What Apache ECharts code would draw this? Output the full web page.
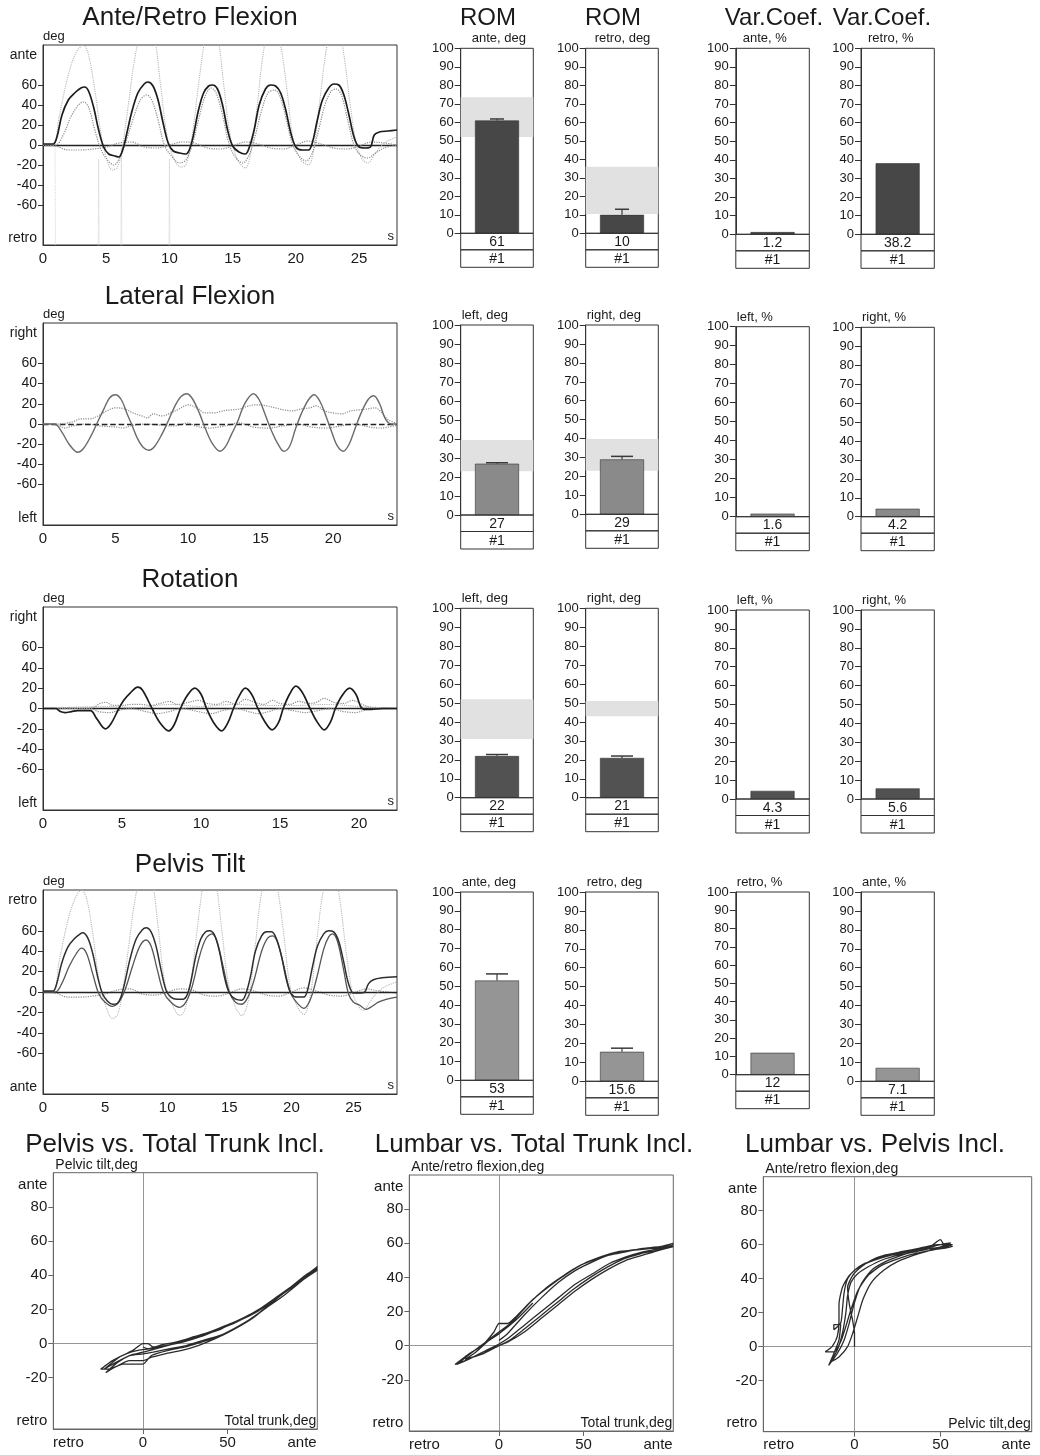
<!DOCTYPE html>
<html><head><meta charset="utf-8">
<script src="https://cdn.jsdelivr.net/npm/echarts@6/dist/echarts.min.js"></script>
<style>html,body{margin:0;padding:0;background:#fff}#c{width:1040px;height:1455px}</style>
</head><body><div id="c"></div>
<script>
// ================= DATA =================
// Titles / labels
const rowTitles = ['Ante/Retro Flexion', 'Lateral Flexion', 'Rotation', 'Pelvis Tilt'];
const rowYTop = ['ante', 'right', 'right', 'retro'];
const rowYBottom = ['retro', 'left', 'left', 'ante'];
const lineXTicks = [0, 5, 10, 15, 20, 25];
const lineYTicks = [-60, -40, -20, 0, 20, 40, 60];
const barTitles = ['ROM', 'ROM', 'Var.Coef.', 'Var.Coef.'];
const barYTicks = [0, 10, 20, 30, 40, 50, 60, 70, 80, 90, 100];
const xyTitles = ['Pelvis vs. Total Trunk Incl.', 'Lumbar vs. Total Trunk Incl.', 'Lumbar vs. Pelvis Incl.'];
const xyYNames = ['Pelvic tilt,deg', 'Ante/retro flexion,deg', 'Ante/retro flexion,deg'];
const xyXNames = ['Total trunk,deg', 'Total trunk,deg', 'Pelvic tilt,deg'];
const xyXTicks = [0, 50];
const xyYTicks = [-20, 0, 20, 40, 60, 80];

// Bar values (ROM ante/left, ROM retro/right, VarCoef, VarCoef)
const flexSub = ['ante, deg', 'retro, deg', 'ante, %', 'retro, %'];
const latSub = ['left, deg', 'right, deg', 'left, %', 'right, %'];
const rotSub = ['left, deg', 'right, deg', 'left, %', 'right, %'];
const pelSub = ['ante, deg', 'retro, deg', 'retro, %', 'ante, %'];
const flexBars = [61, 10, 1.2, 38.2];
const latBars = [27, 29, 1.6, 4.2];
const rotBars = [22, 21, 4.3, 5.6];
const pelBars = [53, 15.6, 12, 7.1];
const flexErr = [61.8, 13, null, null];
const latErr = [27.5, 30.6, null, null];
const rotErr = [22.8, 22, null, null];
const pelErr = [56.5, 17.5, null, null];
const flexNorm = [[52, 73.5], [10.5, 36], null, null];
const latNorm = [[23, 39.5], [23, 39.8], null, null];
const rotNorm = [[31, 52], [43, 51], null, null];
const pelNorm = [null, null, null, null];
const groupLabel = '#1';

// Time series: [seconds, degrees]
const flexMain = [[0,1],[0.8,1],[1.1,8],[1.5,30],[2.0,45],[2.5,52],[3.0,57],[3.3,58],[3.6,54],[4.0,38],[4.4,15],[4.8,-2],[5.2,-9],[5.7,-11],[6.0,-12],[6.3,-5],[6.6,10],[7.0,32],[7.5,52],[8.0,61],[8.3,63],[8.7,59],[9.1,45],[9.5,22],[9.9,2],[10.3,-6],[10.8,-8],[11.3,-9],[11.6,-4],[11.9,10],[12.3,35],[12.7,52],[13.1,59],[13.4,60],[13.8,56],[14.2,40],[14.6,15],[15.0,-1],[15.5,-7],[16.0,-9],[16.3,-3],[16.7,15],[17.1,40],[17.6,56],[18.0,60],[18.4,59],[18.8,52],[19.2,35],[19.6,12],[20.0,-2],[20.5,-5],[21.0,-5],[21.3,2],[21.7,25],[22.1,45],[22.6,57],[23.0,61],[23.4,60],[23.8,50],[24.2,30],[24.6,8],[25.0,-2],[25.5,-3],[25.9,-2],[26.2,10],[26.6,13],[27.3,14],[28,15]];
const flexTrunk = [[0,0],[0.8,0],[1.3,30],[2.0,70],[2.6,92],[3.2,100],[3.6,90],[4.1,55],[4.6,10],[5.0,-12],[5.5,-25],[5.9,-22],[6.3,0],[6.8,45],[7.3,90],[7.8,115],[8.3,125],[8.8,110],[9.3,60],[9.8,10],[10.3,-12],[10.9,-22],[11.3,-20],[11.8,10],[12.3,60],[12.8,105],[13.3,125],[13.8,110],[14.3,60],[14.8,10],[15.4,-15],[16.0,-23],[16.4,-10],[16.9,35],[17.4,90],[17.9,120],[18.3,125],[18.8,100],[19.3,55],[19.8,5],[20.4,-15],[21.0,-20],[21.4,-5],[21.9,45],[22.4,95],[22.9,120],[23.3,120],[23.8,90],[24.3,40],[24.8,0],[25.3,-15],[25.7,-18],[26.2,-10],[26.8,0],[27.4,5],[28,8]];
const flexPelvis = [[0,0],[1.0,0],[1.6,10],[2.2,28],[2.8,40],[3.2,43],[3.6,38],[4.1,15],[4.6,-5],[5.1,-15],[5.6,-20],[6.1,-12],[6.6,5],[7.1,25],[7.7,45],[8.2,50],[8.6,45],[9.1,25],[9.6,0],[10.1,-10],[10.8,-18],[11.3,-15],[11.8,0],[12.3,25],[12.8,48],[13.3,57],[13.7,52],[14.2,30],[14.7,2],[15.2,-12],[15.8,-18],[16.3,-10],[16.8,10],[17.3,35],[17.8,52],[18.3,55],[18.7,50],[19.2,28],[19.7,2],[20.2,-10],[20.8,-16],[21.3,-8],[21.8,15],[22.3,40],[22.8,54],[23.2,56],[23.6,50],[24.1,25],[24.6,0],[25.1,-10],[25.7,-13],[26.3,-8],[27,-3],[28,0]];
const flexNear = [[0,0],[1,-1],[2,-5],[3,-5],[4,-4],[5,-2],[6,2],[7,3],[8,-2],[9,-3],[10,0],[11,3],[12,2],[13,-3],[14,-4],[15,-1],[16,3],[17,1],[18,-3],[19,-4],[20,0],[21,4],[22,1],[23,-3],[24,-4],[25,-1],[26,3],[27,2],[28,0]];
const flexSpike = [[0.95,-2],[1.0,-130],[4.35,-130],[4.4,-14],[4.45,-130],[6.15,-130],[6.2,-3],[6.25,-130],[9.95,-130],[10.0,-14],[10.05,-130]];

const latMain = [[0,0],[0.8,0],[1.3,-8],[1.8,-20],[2.4,-28],[2.8,-24],[3.3,-12],[3.7,0],[4.2,15],[4.6,26],[5.0,29],[5.4,24],[5.8,10],[6.1,0],[6.5,-14],[6.9,-23],[7.3,-26],[7.7,-22],[8.2,-10],[8.6,2],[9.1,18],[9.5,27],[9.9,30],[10.3,25],[10.8,10],[11.2,-5],[11.7,-20],[12.2,-27],[12.6,-22],[13.0,-10],[13.4,2],[13.9,20],[14.5,30],[14.9,24],[15.3,10],[15.7,-5],[16.2,-20],[16.6,-27],[17.0,-22],[17.4,-5],[17.8,10],[18.3,24],[18.7,29],[19.1,22],[19.5,8],[19.9,-8],[20.3,-22],[20.7,-27],[21.1,-20],[21.5,-5],[21.9,10],[22.4,24],[22.8,28],[23.2,20],[23.6,5],[24.0,0],[24.4,0]];
const latSecond = [[0,0],[1,0],[2,2],[2.6,5],[3.2,5],[3.8,8],[4.4,13],[5.0,16],[5.6,15],[6.2,11],[6.8,8],[7.2,6],[7.6,10],[8.2,8],[8.8,11],[9.4,15],[10.0,19],[10.6,16],[11.2,11],[11.8,11],[12.4,13],[13.0,14],[13.6,15],[14.2,18],[14.8,19],[15.4,18],[16.0,16],[16.6,14],[17.2,13],[17.8,15],[18.4,16],[18.8,18],[19.4,13],[20.0,11],[20.6,10],[21.2,13],[21.8,14],[22.4,15],[22.9,16],[23.3,12],[23.8,4],[24.4,1]];
const latNear = [[0,0],[1,-1],[1.5,-4],[2,-2],[3,0],[4,-2],[5,-3],[5.5,-4],[6,-2],[7,0],[8,-1],[9,-2],[10,1],[10.5,-2],[11.5,-4],[12.5,-2],[13.5,1],[14.5,-3],[15.5,-4],[16.5,-2],[17.5,0],[18.5,-3],[19.5,-4],[20.5,-2],[21.5,0],[22.5,-3],[23.3,-4],[24.4,-1]];

const rotMain = [[0,0],[0.8,0],[1.1,-3],[1.4,-4],[1.8,-3],[2.2,-2],[3.0,-2],[3.4,-10],[3.95,-20],[4.3,-15],[4.8,0],[5.1,8],[5.5,15],[6.0,21],[6.3,18],[6.9,0],[7.4,-14],[7.95,-22],[8.3,-16],[8.7,0],[9.1,12],[9.6,20],[10.0,14],[10.35,0],[10.8,-14],[11.3,-22],[11.7,-14],[12.05,0],[12.4,12],[12.8,20],[13.2,14],[13.6,0],[14.0,-12],[14.5,-21],[14.9,-14],[15.2,0],[15.6,14],[16.0,22],[16.4,16],[16.9,0],[17.3,-12],[17.8,-21],[18.2,-13],[18.5,0],[18.9,12],[19.4,20],[19.8,14],[20.2,0],[20.6,-1],[21.5,0],[22.4,0]];
const rotSecond = [[0,0],[2.5,0],[3.2,1],[3.6,5],[4.0,6],[4.4,3],[5.0,3],[5.6,4],[6.2,4],[6.8,3],[7.4,5],[8.0,7],[8.5,4],[9.2,6],[9.8,8],[10.4,5],[11.0,4],[11.6,7],[12.2,4],[12.8,9],[13.4,6],[14.0,4],[14.5,8],[15.0,5],[15.6,4],[16.2,7],[16.8,5],[17.3,6],[17.8,10],[18.4,6],[19.0,5],[19.6,8],[20.2,4],[20.8,1],[21.5,0],[22.4,0]];
const rotThird = [[0,0],[3,0],[3.5,-3],[4.2,-4],[4.8,-2],[5.5,0],[6.5,-3],[7.2,-5],[8,-3],[8.8,0],[9.8,-3],[10.6,-5],[11.4,-2],[12.2,0],[13.0,-3],[13.6,-5],[14.3,-3],[15,0],[15.8,-2],[16.6,-4],[17.4,-2],[18.2,0],[19.0,-3],[19.8,-4],[20.5,-1],[22.4,0]];
const rotFourth = [[0,0],[4,2],[6,1],[8,4],[10,2],[12,4],[14,3],[16,3],[18,4],[20,2],[22.4,0]];

const pelMain = [[0,1],[0.8,1],[1.1,8],[1.5,28],[2.0,44],[2.5,52],[3.0,57],[3.2,58],[3.6,53],[4.0,38],[4.4,15],[4.8,-2],[5.2,-9],[5.6,-12],[6.0,-11],[6.3,-4],[6.6,10],[7.0,32],[7.5,52],[8.0,61],[8.3,63],[8.7,59],[9.1,45],[9.5,22],[9.9,2],[10.3,-5],[10.8,-7],[11.3,-7],[11.6,-3],[11.9,10],[12.3,35],[12.7,52],[13.1,59],[13.4,60],[13.8,56],[14.2,40],[14.6,15],[15.0,-1],[15.5,-7],[16.0,-8],[16.3,-3],[16.7,15],[17.1,40],[17.6,55],[18.0,59],[18.4,59],[18.8,52],[19.2,35],[19.6,12],[20.0,-2],[20.5,-5],[21.0,-5],[21.3,2],[21.7,25],[22.1,45],[22.6,57],[23.0,60],[23.4,59],[23.8,50],[24.2,30],[24.6,8],[25.0,-1],[25.5,-1],[25.9,0],[26.2,8],[26.6,12],[27.3,14],[28.5,15]];
const pelSecond = [[0,0],[1.0,0],[1.5,8],[2.1,25],[2.7,38],[3.1,43],[3.5,38],[4.0,18],[4.5,-2],[5.0,-10],[5.6,-14],[6.1,-10],[6.6,2],[7.2,25],[7.8,45],[8.3,51],[8.7,45],[9.2,22],[9.7,0],[10.3,-10],[11.0,-15],[11.5,-10],[12.0,5],[12.6,35],[13.1,52],[13.6,57],[14.0,50],[14.5,25],[15.0,0],[15.5,-10],[16.0,-12],[16.5,-5],[17.0,12],[17.6,40],[18.1,53],[18.5,55],[18.9,48],[19.4,25],[19.9,0],[20.4,-10],[21.0,-16],[21.5,-8],[22.0,12],[22.6,42],[23.0,54],[23.3,57],[23.7,50],[24.2,22],[24.6,-2],[25.0,-10],[25.5,-13],[26.0,-17],[26.5,-14],[27.0,-10],[27.7,-7],[28.5,-5]];
const pelBig = [[0,0],[0.8,0],[1.3,30],[2.0,70],[2.6,92],[3.1,100],[3.5,92],[4.0,58],[4.5,12],[5.0,-12],[5.6,-26],[6.0,-22],[6.4,0],[6.9,45],[7.4,90],[7.9,115],[8.3,122],[8.8,108],[9.3,60],[9.8,10],[10.4,-12],[11.0,-23],[11.4,-18],[11.9,10],[12.4,60],[12.9,105],[13.4,122],[13.9,108],[14.4,60],[14.9,10],[15.5,-15],[16.0,-23],[16.5,-10],[17.0,35],[17.5,90],[18.0,118],[18.4,122],[18.9,100],[19.4,55],[19.9,5],[20.5,-15],[21.0,-22],[21.5,-5],[22.0,45],[22.5,95],[23.0,118],[23.4,118],[23.9,90],[24.4,40],[24.9,0],[25.4,-14],[25.8,-18],[26.3,-10],[26.8,-2],[27.5,5],[28.5,10]];
const pelNear = [[0,0],[1,-1],[2,-5],[3,-5],[4,-4],[5,-2],[6,2],[7,3],[8,-2],[9,-3],[10,0],[11,3],[12,2],[13,-3],[14,-4],[15,-1],[16,3],[17,1],[18,-3],[19,-4],[20,0],[21,4],[22,1],[23,-3],[24,-4],[25,-1],[26,3],[27,1],[28.5,-1]];

// Cross plots: [x deg, y deg]
const ptLoop = [[0,-2],[3,-3],[10,-1],[20,1],[30,4],[40,7],[50,11],[60,15],[70,21],[80,28],[90,35],[100,42],[103,45],[95,39],[85,31],[75,23],[65,15],[55,9],[45,4],[35,1],[25,-2],[15,-4],[5,-7],[0,-12],[-5,-12],[-12,-12],[-20,-15],[-25,-15],[-18,-10],[-10,-6],[-3,-4],[5,-3],[15,-1],[25,2],[35,5],[45,8],[55,13],[65,18],[75,24],[85,31],[95,38],[103,44],[93,36],[83,28],[73,21],[63,14],[53,8],[43,3],[33,-1],[23,-4],[13,-6],[5,-8],[0,-10],[-8,-10],[-15,-13],[-22,-17],[-15,-11],[-8,-7],[0,-5],[8,-3],[18,0],[28,3],[38,6],[48,10],[58,14],[68,19],[78,26],[88,33],[98,40],[103,44],[96,40],[86,32],[76,24],[66,16],[56,10],[46,5],[36,2],[26,-1],[16,-3],[6,-5],[0,-6],[-8,-7],[-16,-11],[-23,-15],[-14,-8],[-6,-4],[0,0],[3,0],[6,-2],[14,-1],[24,1],[34,4],[44,8],[54,12],[64,17],[74,23],[84,30],[94,37],[103,43]];
const ltLoop = [[0,3],[5,7],[15,18],[25,28],[35,37],[45,44],[55,49],[65,53],[75,55],[85,57],[95,58],[103,60],[95,57],[85,55],[75,52],[65,48],[55,42],[45,36],[35,28],[25,20],[15,12],[5,4],[0,1],[-8,-3],[-18,-8],[-26,-11],[-18,-5],[-10,0],[-3,8],[0,13],[5,13],[10,17],[20,27],[30,35],[40,42],[50,48],[60,52],[70,55],[80,56],[90,57],[100,58],[103,59],[94,56],[84,54],[74,51],[64,46],[54,40],[44,33],[34,25],[24,17],[14,9],[6,3],[0,0],[-10,-4],[-20,-9],[-25,-11],[-16,-4],[-8,2],[0,8],[8,14],[18,25],[28,34],[38,41],[48,47],[58,51],[68,54],[78,56],[88,57],[98,58],[103,58],[95,56],[85,53],[75,50],[65,45],[55,39],[45,32],[35,24],[25,16],[15,8],[5,2],[0,0],[-10,-5],[-20,-8],[-14,-4],[-6,3],[0,7],[10,15],[20,25]];
const lpLoop = [[0,0],[0,8],[-1,15],[-3,25],[-4,35],[-1,42],[4,47],[10,51],[18,54],[28,56],[38,58],[48,60],[57,60],[48,58],[38,57],[28,54],[18,50],[10,45],[4,37],[0,26],[-3,14],[-6,4],[-10,-4],[-15,-11],[-12,-4],[-9,4],[-8,13],[-12,13],[-12,10],[-8,14],[-7,22],[-6,32],[-4,40],[0,45],[6,49],[14,52],[24,55],[34,57],[44,59],[50,63],[52,60],[57,59],[46,57],[36,55],[26,52],[16,48],[8,42],[2,33],[-2,22],[-5,12],[-8,3],[-12,-3],[-17,-3],[-13,0],[-10,6],[-9,15],[-9,25],[-7,35],[-3,42],[3,47],[12,51],[22,54],[32,56],[42,58],[50,60],[56,61],[45,57],[35,54],[25,50],[17,45],[10,38],[5,28],[2,18],[-1,8],[-4,0],[-9,-6],[-14,-9],[-10,-2],[-7,8],[-5,20],[-4,30],[-2,38],[2,43],[8,47],[16,51],[26,54],[36,56],[46,58],[55,59]];

// ================= LAYOUT / STYLE =================
const FONT = "'Liberation Sans', Arial, sans-serif";
const INK = '#1a1a1a';

const lineLayout = [
  {left: 43, top: 45, width: 354, height: 200, xMax: 28, titleY: 18},
  {left: 43, top: 323, width: 354, height: 202, xMax: 24.4, titleY: 297},
  {left: 43, top: 607, width: 354, height: 203, xMax: 22.4, titleY: 580},
  {left: 43, top: 890, width: 354, height: 204, xMax: 28.5, titleY: 865}
];
const ST = {
  main: {color: '#1c1c1c', width: 1.7, type: 'solid'},
  dark: {color: '#2e2e2e', width: 1.5, type: 'solid'},
  dark2: {color: '#555', width: 1.3, type: 'solid'},
  gray: {color: '#6a6a6a', width: 1.4, type: 'solid'},
  mid: {color: '#8c8c8c', width: 1.2, type: 'dotted'},
  light: {color: '#b4b4b4', width: 1.1, type: 'dotted'},
  faint: {color: '#cfcfcf', width: 0.9, type: 'dotted'}
};
const lineTraces = [
  [[flexSpike, 'faint', false], [flexNear, 'mid'], [flexTrunk, 'light'], [flexPelvis, 'mid'], [flexMain, 'main']],
  [[latNear, 'mid'], [latSecond, 'mid'], [latMain, 'gray']],
  [[rotFourth, 'light'], [rotThird, 'mid'], [rotSecond, 'mid'], [rotMain, 'main']],
  [[pelNear, 'mid'], [pelBig, 'light'], [pelSecond, 'dark2'], [pelMain, 'dark']]
];
const zeroLineType = ['solid', 'dashed', 'solid', 'solid'];

const barCols = [{left: 460.7, width: 72.6}, {left: 585.7, width: 72.6}, {left: 735.8, width: 73.5}, {left: 861, width: 73.3}];
const barRowsLayout = [
  {tops: [48.3, 48.3, 48.3, 48.3], zeros: [233.3, 233.3, 234.3, 234.3], pad: [11, 9, 7, 7], color: '#474747'},
  {tops: [325, 325, 326.7, 327.3], zeros: [515, 514.3, 516.7, 516.7], pad: [1, 1, 1, 1], color: '#8a8a8a'},
  {tops: [608.3, 608.3, 610, 610], zeros: [797.7, 797.7, 799, 799], pad: [1, 1, 1, 1], color: '#525252'},
  {tops: [892, 892, 892, 892], zeros: [1080.3, 1081.3, 1074.7, 1081.3], pad: [1, 1, 1, 1], color: '#959595'}
];
const barTitleX = [488, 613, 774, 882];
const capWidth = [[14, 14], [22, 22], [22, 22], [22, 22]];

const xyLayout = [
  {left: 53.3, top: 1172.7, width: 264, height: 256.3, titleX: 175},
  {left: 409.3, top: 1175, width: 264, height: 256, titleX: 534},
  {left: 763.3, top: 1176.7, width: 268.4, height: 255, titleX: 875}
];
const xyLoops = [ptLoop, ltLoop, lpLoop];

// ================= BUILD =================
const grids = [], xAxes = [], yAxes = [], series = [], graphics = [];
function addGrid(g) {
  grids.push(Object.assign({show: true, borderColor: '#333', borderWidth: 1, backgroundColor: 'transparent', containLabel: false, outerBoundsMode: 'none'}, g));
  return grids.length - 1;
}
function txt(x, y, text, size, opts) {
  graphics.push({type: 'text', x: x, y: y, silent: true, z: 10,
    style: Object.assign({text: text, fontSize: size, fontFamily: FONT, fill: INK, align: 'center', verticalAlign: 'middle'}, opts || {})});
}

// ---- time series rows ----
lineLayout.forEach((L, r) => {
  const gi = addGrid({left: L.left, top: L.top, width: L.width, height: L.height});
  xAxes.push({gridIndex: gi, type: 'value', min: 0, max: L.xMax, interval: 5,
    axisLine: {show: true, onZero: false, lineStyle: {color: '#333'}},
    axisTick: {show: false},
    axisLabel: {customValues: lineXTicks, fontSize: 15, color: INK, margin: 6, fontFamily: FONT},
    splitLine: {show: false},
    name: 's', nameLocation: 'end', nameGap: -3,
    nameTextStyle: {fontSize: 13, color: INK, align: 'right', verticalAlign: 'bottom', padding: [0, 0, 2, 0], fontFamily: FONT}
  });
  const labelMap = {};
  labelMap[90] = rowYTop[r]; labelMap[-93] = rowYBottom[r];
  yAxes.push({gridIndex: gi, type: 'value', min: -100, max: 100, interval: 20,
    axisLine: {show: true, lineStyle: {color: '#333'}},
    axisTick: {show: true, length: 5, customValues: lineYTicks, lineStyle: {color: '#333'}},
    axisLabel: {customValues: [-93].concat(lineYTicks, [90]), fontSize: 14, color: INK, margin: 6, fontFamily: FONT,
      formatter: v => (labelMap[v] !== undefined ? labelMap[v] : String(v))},
    splitLine: {show: false},
    name: 'deg', nameLocation: 'end', nameGap: 2,
    nameTextStyle: {fontSize: 13, color: INK, align: 'left', fontFamily: FONT}
  });
  const ax = xAxes.length - 1;
  lineTraces[r].forEach((tr, k) => {
    const st = ST[tr[1]];
    const s = {type: 'line', xAxisIndex: ax, yAxisIndex: ax, data: tr[0], showSymbol: false, symbol: 'none',
      smooth: tr[2] === false ? false : 0.35, clip: true, silent: true, z: 2 + k,
      lineStyle: {color: st.color, width: st.width, type: st.type}};
    if (k === 0) {
      s.markLine = {silent: true, symbol: 'none', label: {show: false}, z: 3,
        lineStyle: {color: '#222', width: 1.4, type: zeroLineType[r]}, data: [{yAxis: 0}]};
    }
    series.push(s);
  });
  txt(190, L.titleY, rowTitles[r], 26);
});

// ---- bar charts ----
const barRowsData = [
  {vals: flexBars, err: flexErr, norm: flexNorm, sub: flexSub},
  {vals: latBars, err: latErr, norm: latNorm, sub: latSub},
  {vals: rotBars, err: rotErr, norm: rotNorm, sub: rotSub},
  {vals: pelBars, err: pelErr, norm: pelNorm, sub: pelSub}
];
barRowsData.forEach((D, r) => {
  const RL = barRowsLayout[r];
  barCols.forEach((C, c) => {
    const top = RL.tops[c], zero = RL.zeros[c];
    const gi = addGrid({left: C.left, top: top, width: C.width, height: zero - top});
    xAxes.push({gridIndex: gi, type: 'category', data: [groupLabel], show: false});
    yAxes.push({gridIndex: gi, type: 'value', min: 0, max: 100, interval: 10,
      axisLine: {show: true, lineStyle: {color: '#333'}},
      axisTick: {show: true, length: 6, lineStyle: {color: '#333'}},
      axisLabel: {fontSize: 13, color: INK, margin: 7, fontFamily: FONT, customValues: barYTicks},
      splitLine: {show: false},
      name: D.sub[c], nameLocation: 'end', nameGap: 3,
      nameTextStyle: {fontSize: 13, color: INK, align: 'left', padding: [0, 0, 0, RL.pad[c]], fontFamily: FONT}
    });
    const ax = xAxes.length - 1;
    const bar = {type: 'bar', xAxisIndex: ax, yAxisIndex: ax, data: [D.vals[c]], barWidth: 44, silent: true, z: 2,
      itemStyle: {color: RL.color, borderColor: '#333', borderWidth: 0.6}};
    if (D.norm[c]) {
      bar.markArea = {silent: true, z: 1, itemStyle: {color: '#e1e1e1'},
        data: [[{yAxis: D.norm[c][0]}, {yAxis: D.norm[c][1]}]]};
    }
    series.push(bar);
    if (D.err[c] !== null) {
      const cw = capWidth[r][c];
      series.push({type: 'custom', xAxisIndex: ax, yAxisIndex: ax, silent: true, z: 4,
        data: [[0, D.vals[c], D.err[c]]],
        renderItem: (params, api) => {
          const p1 = api.coord([api.value(0), api.value(1)]);
          const p2 = api.coord([api.value(0), api.value(2)]);
          return {type: 'group', children: [
            {type: 'line', shape: {x1: p1[0], y1: p1[1], x2: p2[0], y2: p2[1]}, style: {stroke: '#3a3a3a', lineWidth: 1.2}},
            {type: 'line', shape: {x1: p2[0] - cw / 2, y1: p2[1], x2: p2[0] + cw / 2, y2: p2[1]}, style: {stroke: '#3a3a3a', lineWidth: 1.5}}
          ]};
        }
      });
    }
    // value / group table below the bar
    const h1 = 16.5, h2 = 17.5;
    graphics.push({type: 'rect', silent: true, z: 5, shape: {x: C.left, y: zero, width: C.width, height: h1},
      style: {fill: 'none', stroke: '#333', lineWidth: 1}});
    graphics.push({type: 'rect', silent: true, z: 5, shape: {x: C.left, y: zero + h1, width: C.width, height: h2},
      style: {fill: 'none', stroke: '#333', lineWidth: 1}});
    txt(C.left + C.width / 2, zero + h1 / 2 + 0.5, String(D.vals[c]), 14);
    txt(C.left + C.width / 2, zero + h1 + h2 / 2 + 0.5, groupLabel, 14);
    if (r === 0) txt(barTitleX[c], 18, barTitles[c], 24);
  });
});

// ---- cross plots ----
xyLayout.forEach((L, i) => {
  const gi = addGrid({left: L.left, top: L.top, width: L.width, height: L.height, borderColor: '#666'});
  const xMap = {}; xMap[-44] = 'retro'; xMap[0] = '0'; xMap[50] = '50'; xMap[94] = 'ante';
  const yMap = {}; yMap[-45] = 'retro'; yMap[93] = 'ante';
  xAxes.push({gridIndex: gi, type: 'value', min: -53, max: 103,
    axisLine: {show: true, onZero: false, lineStyle: {color: '#666'}},
    axisTick: {show: true, length: 5, customValues: xyXTicks, lineStyle: {color: '#666'}},
    axisLabel: {customValues: [-44, 0, 50, 94], fontSize: 15, color: INK, margin: 6, fontFamily: FONT,
      formatter: v => (xMap[v] !== undefined ? xMap[v] : String(v))},
    splitLine: {show: false},
    name: xyXNames[i], nameLocation: 'end', nameGap: -1,
    nameTextStyle: {fontSize: 14, color: INK, align: 'right', verticalAlign: 'bottom', padding: [0, 0, 1, 0], fontFamily: FONT}
  });
  yAxes.push({gridIndex: gi, type: 'value', min: -50, max: 100,
    axisLine: {show: true, onZero: false, lineStyle: {color: '#666'}},
    axisTick: {show: true, length: 5, customValues: xyYTicks, lineStyle: {color: '#666'}},
    axisLabel: {customValues: [-45].concat(xyYTicks, [93]), fontSize: 15, color: INK, margin: 6, fontFamily: FONT,
      formatter: v => (yMap[v] !== undefined ? yMap[v] : String(v))},
    splitLine: {show: false},
    name: xyYNames[i], nameLocation: 'end', nameGap: 1,
    nameTextStyle: {fontSize: 14, color: INK, align: 'left', padding: [0, 0, 0, 2], fontFamily: FONT}
  });
  const ax = xAxes.length - 1;
  series.push({type: 'line', xAxisIndex: ax, yAxisIndex: ax, data: xyLoops[i], showSymbol: false, symbol: 'none',
    smooth: 0.2, clip: true, silent: true, z: 3,
    lineStyle: {color: '#2b2b2b', width: 1.3},
    markLine: {silent: true, symbol: 'none', label: {show: false}, z: 1,
      lineStyle: {color: '#8a8a8a', width: 0.9, type: 'solid'}, data: [{xAxis: 0}, {yAxis: 0}]}
  });
  txt(L.titleX, 1145, xyTitles[i], 26);
});

const chart = echarts.init(document.getElementById('c'), null, {renderer: 'canvas'});
chart.setOption({
  animation: false,
  backgroundColor: '#fff',
  textStyle: {fontFamily: FONT},
  grid: grids, xAxis: xAxes, yAxis: yAxes, series: series,
  graphic: {elements: graphics}
});
</script></body></html>
